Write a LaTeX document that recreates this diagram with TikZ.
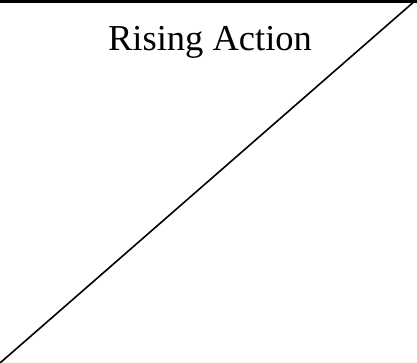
\documentclass[tikz,border=0pt]{standalone}
\usepackage{fontspec}
\setmainfont{Liberation Serif}
\begin{document}
\begin{tikzpicture}[x=1pt,y=-1pt,
  lbl/.style={font=\fontsize{36.5}{44}\selectfont,anchor=base,inner sep=0pt}]
\useasboundingbox (0,0) rectangle (417,363);
\coordinate (tl) at (0,1.3);
\coordinate (tr) at (417,1.3);
\coordinate (dtr) at (416,0);
\coordinate (bl) at (0,363);
\draw[line width=2.6pt] (tl) -- (tr);
\draw[line width=1.6pt] (bl) -- (dtr);
\node[lbl] (t) at (210,51) {Rising Action};
\end{tikzpicture}
\end{document}
